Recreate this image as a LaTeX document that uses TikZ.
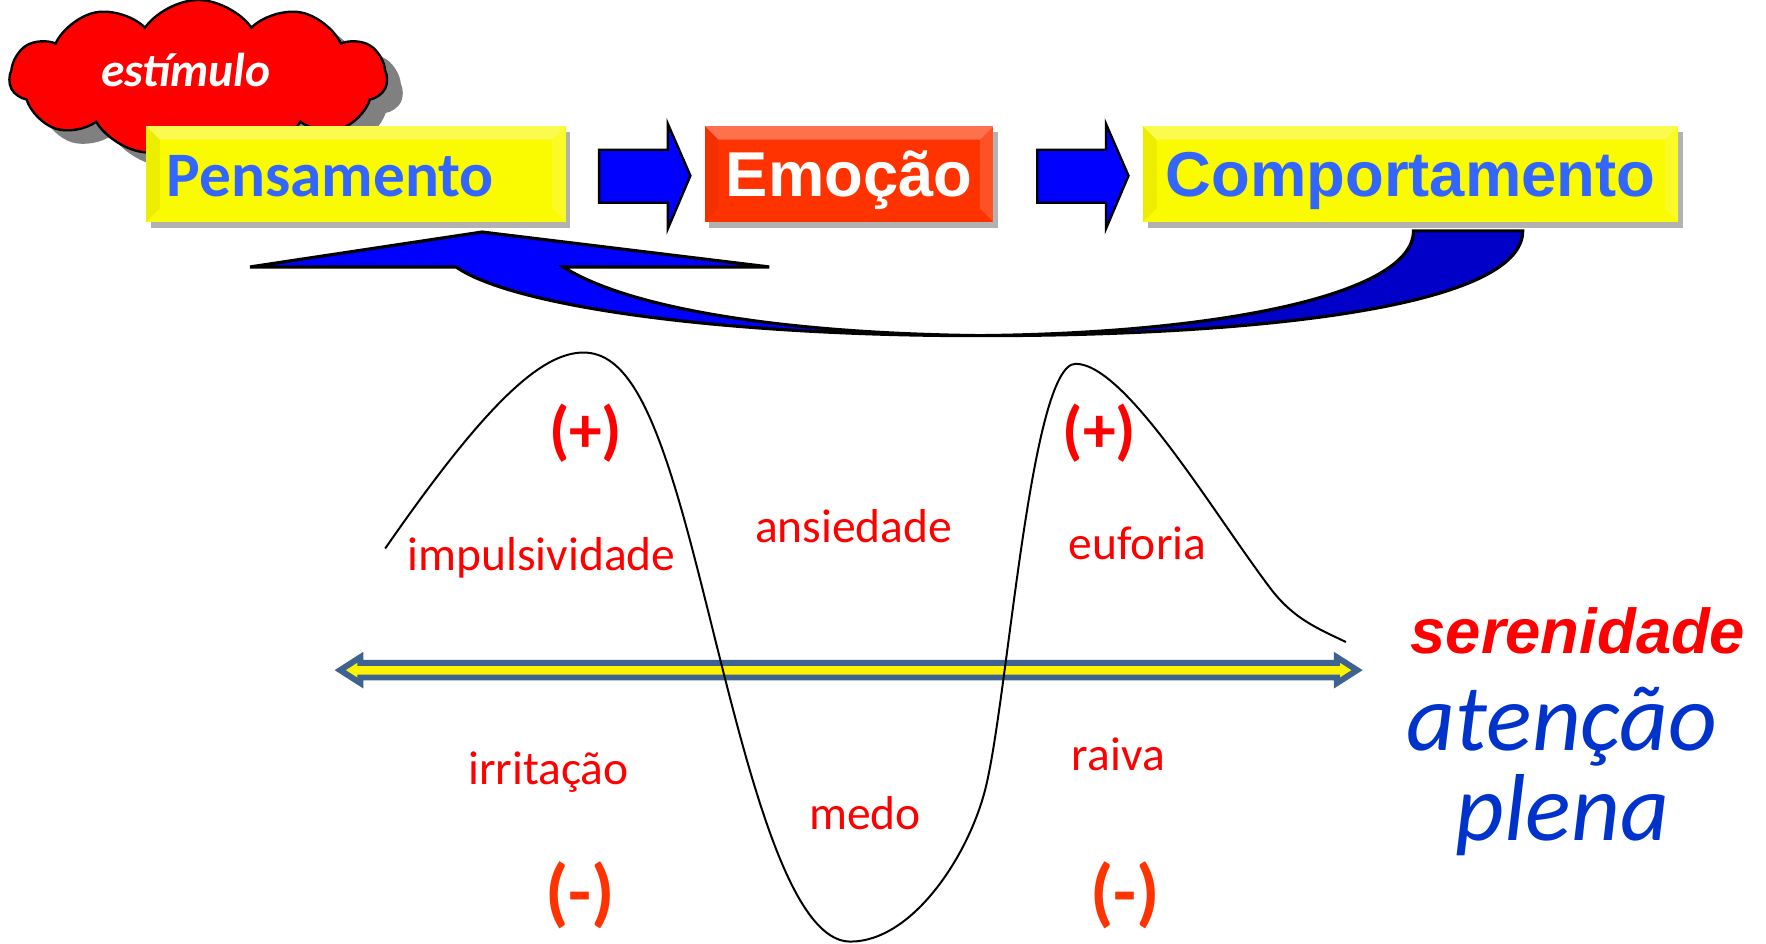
\documentclass[tikz,border=0pt]{standalone}
\usepackage{fontspec}
\setmainfont{Carlito}
\newfontfamily\arialfont{Liberation Sans}
\usetikzlibrary{shapes.symbols,shadows}

\definecolor{boxyellow}{RGB}{250,250,0}
\definecolor{emored}{RGB}{255,51,0}
\definecolor{textblue}{RGB}{51,102,255}
\definecolor{deepblue}{RGB}{0,51,204}
\definecolor{darkarrow}{RGB}{0,0,200}
\definecolor{axisblue}{RGB}{62,99,145}
\definecolor{minusred}{RGB}{255,51,0}

\begin{document}
\begin{tikzpicture}[x=0.01cm, y=-0.01cm]
    \tikzset{Bevel/.style={path picture={
        \fill[white,opacity=.3] (path picture bounding box.north west) -- (path picture bounding box.north east) -- ([xshift=-1.2mm,yshift=-1.2mm]path picture bounding box.north east) -- ([xshift=1.2mm,yshift=-1.2mm]path picture bounding box.north west) -- cycle;
        \fill[black,opacity=.05] (path picture bounding box.north west) -- ([xshift=1.2mm,yshift=-1.2mm]path picture bounding box.north west) -- ([xshift=1.2mm,yshift=1.2mm]path picture bounding box.south west) -- (path picture bounding box.south west) -- cycle;
        \fill[white,opacity=.15] (path picture bounding box.north east) -- ([xshift=-1.2mm,yshift=-1.2mm]path picture bounding box.north east) -- ([xshift=-1.2mm,yshift=1.2mm]path picture bounding box.south east) -- (path picture bounding box.south east) -- cycle;}}}
    \tikzset{Box/.style={rectangle,minimum height=0.85cm,inner sep=0pt,Bevel,text height=0.4cm,text depth=0pt,
        font=\arialfont\bfseries\fontsize{16}{18}\selectfont,
        drop shadow={shadow xshift=0.04cm,shadow yshift=-0.05cm,opacity=0.3,fill=black}}}
    \tikzset{BlockArrow/.style={draw=black,fill=blue,line width=0.6pt}}
    \tikzset{Label/.style={text=red,inner sep=0pt,font=\fontsize{12}{14}\selectfont}}
    \tikzset{Sign/.style={inner sep=0pt,font=\bfseries\fontsize{16.5}{18}\selectfont}}
    \useasboundingbox (0,0) rectangle (1568,838);
    \node[cloud,cloud puffs=11,cloud puff arc=110,cloud ignores aspect,minimum width=3.35cm,minimum height=1.38cm,
          fill=red,draw=black,line width=0.6pt,
          drop shadow={shadow xshift=0.14cm,shadow yshift=-0.12cm,opacity=1,fill=gray}] (stim) at (176,69) {};
    \node[text=white,inner sep=0pt,font=\bfseries\itshape\fontsize{12}{14}\selectfont] (stimtxt) at (165,62) {estímulo};
    \node[Box,fill=boxyellow,text=textblue,font=\bfseries\fontsize{16}{18}\selectfont,
          text width=3.36cm,inner xsep=0.18cm,align=left] (pens) at (316,154.5) {Pensamento};
    \node[Box,fill=emored,text=white,minimum width=2.56cm] (emo) at (754,154.5) {Emoção};
    \node[Box,fill=boxyellow,text=textblue,minimum width=4.75cm] (comp) at (1252.5,154.5) {Comportamento};
    \draw[BlockArrow] (532,133) -- (593,133) -- (593,110) -- (613,156) -- (593,203) -- (593,180) -- (532,180) -- cycle;
    \draw[BlockArrow] (921,133) -- (982,133) -- (982,110) -- (1002,156) -- (982,203) -- (982,180) -- (921,180) -- cycle;
    \coordinate (bend) at (870,298);
    \filldraw[fill=blue,draw=black,line width=0.8pt] (bend) .. controls (640,298) and (455,272) .. (405,237) -- (222,237) -- (428,206) -- (683,237) -- (500,237) .. controls (560,275) and (700,296) .. (bend) -- cycle;
    \filldraw[fill=darkarrow,draw=black,line width=0.8pt] (1352,205) .. controls (1352,272) and (1120,298) .. (bend) .. controls (1080,296) and (1255,262) .. (1255,205) -- cycle;
    \filldraw[fill=yellow,draw=axisblue,line width=1.5pt] (302,595) -- (320,583.5) -- (320,588.5) -- (1187,588.5) -- (1187,583.5) -- (1205,595) -- (1187,606.5) -- (1187,601.5) -- (320,601.5) -- (320,606.5) -- cycle;
    \draw[line width=0.5pt] (342,487) .. controls (430,360) and (480,313) .. (518,313) .. controls (555,313) and (580,360) .. (610,470) .. controls (650,617) and (690,836) .. (755,836) .. controls (810,836) and (860,760) .. (875,700) .. controls (895,620) and (915,323) .. (955,323) .. controls (1000,323) and (1080,460) .. (1130,525) .. controls (1150,550) and (1170,558) .. (1195,570);
    \node[Sign,text=red] (plusL) at (520,385) {(+)};
    \node[Sign,text=red] (plusR) at (976,385) {(+)};
    \node[Sign,text=minusred,font=\bfseries\fontsize{19}{21}\selectfont] (minusL) at (515,795) {(-)};
    \node[Sign,text=minusred,font=\bfseries\fontsize{19}{21}\selectfont] (minusR) at (999,795) {(-)};
    \node[Label] (impuls) at (481,495) {impulsividade};
    \node[Label] (ansied) at (758,467) {ansiedade};
    \node[Label] (eufor) at (1010,482) {euforia};
    \node[Label] (irrit) at (487,686) {irritação};
    \node[Label] (medo) at (768,722) {medo};
    \node[Label] (raiva) at (993,670) {raiva};
    \node[text=red,inner sep=0pt,font=\arialfont\bfseries\itshape\fontsize{16}{18}\selectfont] (seren) at (1401,560) {serenidade};
    \node[text=deepblue,inner sep=0pt,align=center,font=\itshape\fontsize{24}{22.8}\selectfont] (atenc) at (1387,685) {atenção\\plena};
\end{tikzpicture}
\end{document}
